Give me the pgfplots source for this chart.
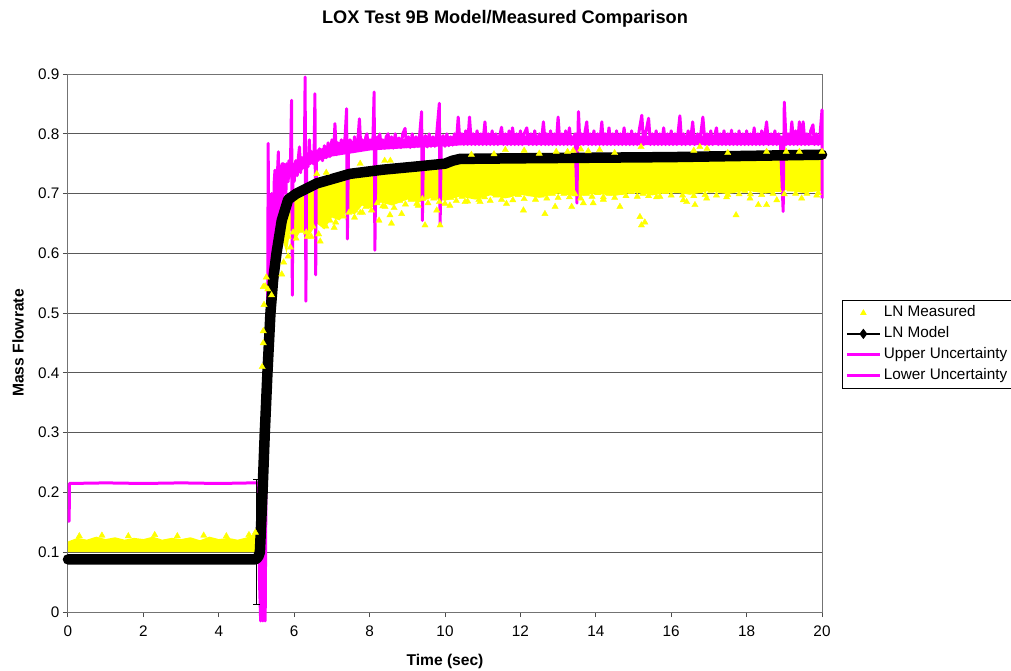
\documentclass[border=0pt]{standalone}
\usepackage{pgfplots}
\pgfplotsset{compat=1.18}
\usepackage{fontspec}
\setmainfont{Liberation Sans}
\definecolor{mag}{RGB}{255,0,255}
\definecolor{yel}{RGB}{255,255,0}
\pgfplotsset{longleg/.style={legend image code/.code={\draw[mark repeat=2,mark phase=2] plot coordinates {(0pt,0pt)(16.5pt,0pt)(33pt,0pt)};}}}
\begin{document}
\begin{tikzpicture}
\useasboundingbox (-68pt,-58pt) rectangle (943pt,612pt);
\begin{axis}[
  at={(0pt,0pt)}, anchor=south west,
  scale only axis, width=754pt, height=538pt,
  xmin=0, xmax=20, ymin=0, ymax=0.9,
  xtick={0,2,4,6,8,10,12,14,16,18,20},
  ytick={0,0.1,0.2,0.3,0.4,0.5,0.6,0.7,0.8,0.9},
  ymajorgrids, major grid style={black!65, line width=1pt},
  axis line style={black!55, line width=1pt},
  tick align=outside, major tick length=5pt, tick style={black!70, line width=1pt},
  xtick pos=bottom, ytick pos=left,
  ticklabel style={font=\fontsize{15.3}{18}\selectfont},
  x tick label style={yshift=-5pt},
  /pgf/number format/assume math mode=true,
  y tick label style={/pgf/number format/.cd, fixed, precision=1},
  xlabel={Time (sec)}, ylabel={Mass Flowrate},
  x label style={at={(axis description cs:0.5,-0.0925)}, anchor=center, font=\bfseries\fontsize{15.6}{18}\selectfont},
  y label style={at={(axis description cs:-0.0663,0.5)}, anchor=center, font=\bfseries\fontsize{15.6}{18}\selectfont},
  clip=false,
  legend style={at={(axis description cs:1.0265,0.58)}, anchor=north west, draw=black, line width=0.8pt,
    font=\fontsize{15.3}{18}\selectfont, legend cell align=left, row sep=0pt,
    nodes={inner sep=2.5pt, text height=12pt, text depth=4pt}},
]
% Lower uncertainty (mostly hidden under the measured band)
\addplot[mag, line width=3pt, forget plot] coordinates {
(0,0.11)(2.5,0.112)(5.0,0.11)(5.09,0.10)(5.16,0.2)(5.22,0.3)(5.29,0.4)(5.37,0.5)(5.44,0.555)(5.53,0.60)(5.67,0.655)(5.84,0.69)(6.06,0.69)(6.6,0.70)(7.5,0.705)(8.4,0.71)(10,0.715)(12,0.72)(14,0.72)(16,0.722)(18,0.724)(20,0.725)};
% Measured: dense band (left)
\addplot[fill=yel, draw=none, forget plot] coordinates {
(0,0.100)(0,0.118)(0.25,0.124)(0.5,0.121)(0.75,0.126)(1.0,0.122)(1.25,0.125)(1.5,0.121)(1.75,0.124)(2.0,0.122)(2.25,0.126)(2.5,0.121)(2.75,0.124)(3.0,0.122)(3.25,0.125)(3.5,0.120)(3.75,0.126)(4.0,0.122)(4.25,0.124)(4.5,0.121)(4.75,0.125)(4.95,0.131)(5.02,0.12)(5.02,0.100)} -- cycle;
% Measured: dense band (right)
\addplot[fill=yel, draw=none, forget plot] coordinates {
(5.45,0.56)(5.5,0.58)(5.6,0.60)(5.7,0.62)(5.8,0.60)(5.9,0.64)(6.0,0.62)(6.2,0.64)(6.4,0.63)(6.6,0.65)(6.8,0.64)(7.0,0.66)(7.2,0.655)(7.4,0.67)(7.6,0.665)(7.8,0.68)(8.0,0.675)(8.3,0.685)(8.6,0.68)(9.0,0.69)(9.3,0.685)(9.6,0.692)(10.0,0.688)(10.4,0.695)(10.8,0.69)(11.2,0.697)(11.6,0.692)(12.0,0.698)(12.5,0.693)(13.0,0.70)(13.5,0.695)(14.0,0.70)(14.5,0.696)(15.0,0.702)(15.5,0.697)(16.0,0.703)(16.5,0.698)(17.0,0.704)(17.5,0.699)(18.0,0.705)(18.5,0.70)(19.0,0.706)(19.5,0.701)(20.0,0.705)
(20,0.765)(18,0.763)(16,0.761)(14,0.76)(12,0.759)(10.4,0.758)(10.2,0.755)(10,0.75)(9.2,0.745)(8.36,0.74)(7.48,0.733)(6.6,0.717)(6.06,0.70)(5.84,0.69)(5.67,0.655)(5.53,0.60)} -- cycle;
% Measured: scattered triangles
\addplot[only marks, mark=triangle*, mark size=3.6pt, color=yel, forget plot] coordinates {
(0.3,0.127)(0.9,0.128)(1.6,0.127)(2.3,0.129)(2.9,0.127)(3.6,0.128)(4.2,0.127)(4.8,0.129)(4.97,0.133)
(5.15,0.41)(5.18,0.45)(5.18,0.47)(5.2,0.514)(5.18,0.544)(5.23,0.545)(5.26,0.56)(5.3,0.54)(5.4,0.53)(5.67,0.565)(5.72,0.585)(5.84,0.595)
(5.84,0.628)(5.9,0.61)(5.97,0.635)(6.1,0.648)(6.32,0.635)(6.45,0.628)(6.69,0.62)(6.84,0.645)(7.06,0.643)(7.23,0.665)(7.6,0.66)(7.81,0.668)(8.25,0.655)
(8.41,0.678)(8.54,0.664)(8.58,0.65)(8.85,0.666)(9.29,0.68)(9.47,0.647)(9.78,0.672)(9.87,0.647)(10.13,0.68)(10.53,0.686)(10.93,0.686)(11.63,0.683)(12.08,0.672)(12.65,0.666)(12.92,0.678)(13.36,0.678)
(13.67,0.684)(13.93,0.684)(14.2,0.69)(14.64,0.678)(15.17,0.661)(15.21,0.647)(15.3,0.652)(15.61,0.694)(15.97,0.705)(16.41,0.686)(16.32,0.689)(16.63,0.681)(16.94,0.692)(17.47,0.694)(17.72,0.664)(18.09,0.692)(18.31,0.681)(18.53,0.681)(18.8,0.689)(19.46,0.692)(19.86,0.697)
(6.6,0.733)(6.85,0.735)(7.75,0.75)(8.4,0.755)(8.55,0.755)(10.7,0.765)(11.3,0.766)(11.6,0.773)(12.1,0.772)(12.5,0.767)(12.95,0.77)(13.25,0.77)(13.4,0.772)(13.6,0.774)(13.8,0.771)(14.1,0.773)(14.5,0.768)(15.2,0.778)(16.6,0.772)(16.76,0.778)(16.95,0.775)(17.5,0.768)(18.53,0.77)(19.05,0.77)(19.4,0.77)(20,0.77)
(6.05,0.625)(6.2,0.638)(6.35,0.628)(6.5,0.645)(6.65,0.632)(6.8,0.648)(6.95,0.655)(7.1,0.652)(7.3,0.662)(7.45,0.668)(7.6,0.672)(7.75,0.668)(7.9,0.678)(8.05,0.672)(8.2,0.684)(8.35,0.679)(8.5,0.686)(8.65,0.676)(8.8,0.688)(8.95,0.682)(9.1,0.69)(9.25,0.683)(9.4,0.691)(9.55,0.684)(9.7,0.692)(9.85,0.686)(10.0,0.683)(10.15,0.693)(10.3,0.688)(10.45,0.695)(10.6,0.687)(10.75,0.696)(10.9,0.69)(11.05,0.694)(11.2,0.688)(11.35,0.697)(11.5,0.69)(11.65,0.697)(11.8,0.689)(11.95,0.698)(12.1,0.691)(12.25,0.699)(12.4,0.69)(12.55,0.697)(12.7,0.692)(12.85,0.70)(13.0,0.693)(13.15,0.70)(13.3,0.694)(13.45,0.699)(13.6,0.692)(13.75,0.70)(13.9,0.695)(14.05,0.701)(14.2,0.694)(14.35,0.70)(14.5,0.693)(14.65,0.701)(14.8,0.696)(14.95,0.703)(15.1,0.695)(15.25,0.70)(15.4,0.696)(15.55,0.702)(15.7,0.695)(15.85,0.703)(16.0,0.697)(16.15,0.704)(16.3,0.697)(16.45,0.703)(16.6,0.696)(16.75,0.704)(16.9,0.698)(17.05,0.705)(17.2,0.697)(17.35,0.704)(17.5,0.698)(17.65,0.706)(17.8,0.699)(17.95,0.705)(18.1,0.699)(18.25,0.706)(18.4,0.698)(18.55,0.705)(18.7,0.70)(18.85,0.706)(19.0,0.699)(19.15,0.707)(19.3,0.70)(19.45,0.706)(19.6,0.70)(19.75,0.707)(19.9,0.701)};
% Upper uncertainty: dense core band
\addplot[fill=mag, draw=none, forget plot] coordinates {
(5.9,0.725)(6.0,0.73)(6.5,0.752)(7.0,0.762)(8.0,0.772)(9.0,0.776)(10,0.779)(10.5,0.781)(20,0.781)
(20,0.797)(10.5,0.797)(10,0.795)(9,0.792)(8,0.788)(7,0.78)(6.5,0.772)(6.0,0.752)(5.9,0.745)} -- cycle;
% Upper uncertainty
\addplot[mag, line width=3pt, line join=round, forget plot] coordinates {
(0,0.152)(0.03,0.152)(0.04,0.215)(1.0,0.216)(2.0,0.215)(3.0,0.216)(4.0,0.215)(4.9,0.216)(5.05,0.216)
(5.08,0.05)(5.11,-0.015)(5.14,0.12)(5.17,-0.015)(5.20,0.20)(5.23,-0.015)(5.26,0.30)(5.29,0.36)(5.31,0.784)(5.33,0.42)(5.35,0.50)(5.37,0.66)(5.38,0.56)(5.40,0.70)(5.42,0.535)(5.44,0.68)(5.45,0.62)(5.47,0.72)(5.49,0.739)(5.51,0.60)(5.53,0.72)(5.54,0.66)(5.56,0.74)(5.58,0.77)(5.60,0.63)(5.62,0.73)(5.64,0.69)(5.66,0.745)(5.68,0.75)(5.70,0.66)(5.72,0.75)(5.74,0.72)(5.76,0.745)(5.78,0.70)(5.80,0.75)(5.82,0.74)(5.84,0.72)(5.86,0.755)(5.88,0.73)(5.90,0.745)(5.93,0.856)(5.95,0.53)(5.97,0.75)
(6.00,0.72)(6.04,0.755)(6.08,0.73)(6.11,0.76)(6.14,0.778)(6.17,0.735)(6.20,0.76)(6.24,0.745)(6.27,0.765)(6.29,0.895)(6.31,0.52)(6.33,0.76)(6.37,0.745)(6.40,0.79)(6.43,0.75)(6.46,0.77)(6.50,0.75)(6.53,0.775)(6.55,0.867)(6.57,0.564)(6.59,0.77)(6.63,0.755)(6.67,0.775)
(6.7,0.77)(6.75,0.755)(6.8,0.78)(6.85,0.76)(6.9,0.785)(6.95,0.762)(7.0,0.79)(7.05,0.765)(7.08,0.817)(7.12,0.765)(7.16,0.785)(7.2,0.768)(7.25,0.79)(7.3,0.77)(7.35,0.795)(7.39,0.842)(7.41,0.624)(7.44,0.77)(7.48,0.79)(7.52,0.784)(7.56,0.77)(7.6,0.795)(7.65,0.772)(7.69,0.79)(7.73,0.825)(7.77,0.772)(7.81,0.79)(7.86,0.775)(7.9,0.795)(7.93,0.80)(7.97,0.775)
(8.01,0.79)(8.05,0.776)(8.09,0.795)(8.12,0.870)(8.14,0.605)(8.17,0.776)(8.21,0.795)(8.25,0.775)(8.27,0.80)(8.31,0.777)(8.35,0.79)(8.39,0.776)(8.44,0.795)(8.49,0.80)(8.53,0.777)(8.58,0.795)(8.63,0.776)(8.68,0.80)(8.73,0.778)(8.78,0.793)(8.83,0.777)(8.88,0.80)(8.94,0.809)(8.98,0.778)
(9.03,0.795)(9.08,0.777)(9.13,0.80)(9.18,0.778)(9.23,0.795)(9.28,0.779)(9.33,0.80)(9.38,0.837)(9.40,0.655)(9.43,0.78)(9.48,0.797)(9.53,0.778)(9.58,0.80)(9.63,0.779)(9.68,0.795)(9.73,0.779)(9.78,0.80)(9.85,0.851)(9.87,0.647)(9.9,0.78)(9.95,0.797)
(10.0,0.779)(10.05,0.80)(10.1,0.78)(10.15,0.795)(10.2,0.781)(10.25,0.80)(10.3,0.782)(10.35,0.828)(10.4,0.783)(10.45,0.80)(10.5,0.782)(10.55,0.805)(10.6,0.782)(10.65,0.828)(10.7,0.782)(10.75,0.80)(10.8,0.782)(10.85,0.805)(10.9,0.782)(10.95,0.80)
(11.0,0.782)(11.06,0.82)(11.1,0.782)(11.15,0.80)(11.2,0.782)(11.25,0.805)(11.3,0.782)(11.35,0.80)(11.4,0.782)(11.5,0.811)(11.55,0.782)(11.6,0.80)(11.65,0.782)(11.7,0.805)(11.75,0.782)(11.79,0.81)(11.85,0.782)(11.9,0.80)(11.95,0.782)
(12.0,0.805)(12.05,0.782)(12.1,0.80)(12.17,0.81)(12.22,0.782)(12.28,0.80)(12.33,0.782)(12.38,0.805)(12.43,0.782)(12.5,0.80)(12.55,0.782)(12.61,0.82)(12.66,0.782)(12.7,0.80)(12.75,0.782)(12.8,0.805)(12.85,0.782)(12.9,0.80)(12.95,0.782)
(13.0,0.828)(13.05,0.782)(13.1,0.80)(13.15,0.782)(13.2,0.805)(13.25,0.782)(13.3,0.81)(13.35,0.782)(13.45,0.80)(13.5,0.684)(13.52,0.782)(13.54,0.837)(13.58,0.782)(13.62,0.80)(13.67,0.782)(13.72,0.805)(13.76,0.82)(13.8,0.782)(13.85,0.80)(13.9,0.782)(13.95,0.805)
(14.0,0.782)(14.05,0.80)(14.1,0.782)(14.16,0.82)(14.2,0.782)(14.25,0.80)(14.3,0.782)(14.35,0.81)(14.4,0.782)(14.45,0.80)(14.5,0.782)(14.55,0.805)(14.6,0.782)(14.65,0.80)(14.7,0.782)(14.75,0.81)(14.8,0.782)(14.85,0.80)(14.9,0.782)(14.95,0.805)
(15.0,0.782)(15.05,0.80)(15.1,0.782)(15.15,0.805)(15.22,0.831)(15.27,0.782)(15.32,0.80)(15.4,0.826)(15.45,0.782)(15.5,0.80)(15.55,0.782)(15.6,0.805)(15.65,0.782)(15.7,0.80)(15.75,0.782)(15.8,0.81)(15.85,0.782)(15.9,0.80)(15.95,0.782)
(16.0,0.805)(16.05,0.782)(16.1,0.80)(16.15,0.782)(16.23,0.83)(16.28,0.782)(16.33,0.80)(16.38,0.782)(16.45,0.805)(16.5,0.782)(16.57,0.82)(16.62,0.782)(16.7,0.80)(16.75,0.782)(16.84,0.828)(16.9,0.782)(16.95,0.80)
(17.0,0.782)(17.05,0.805)(17.1,0.782)(17.2,0.81)(17.25,0.782)(17.3,0.80)(17.35,0.782)(17.4,0.805)(17.45,0.782)(17.5,0.80)(17.55,0.782)(17.6,0.806)(17.65,0.782)(17.7,0.80)(17.75,0.782)(17.8,0.805)(17.85,0.782)(17.9,0.80)(17.95,0.782)
(18.0,0.805)(18.05,0.782)(18.1,0.80)(18.15,0.782)(18.2,0.81)(18.25,0.782)(18.3,0.80)(18.35,0.782)(18.4,0.805)(18.45,0.782)(18.53,0.82)(18.58,0.782)(18.65,0.80)(18.7,0.782)(18.75,0.805)(18.8,0.782)(18.85,0.80)(18.9,0.782)(18.97,0.67)
(19.0,0.853)(19.05,0.782)(19.1,0.80)(19.15,0.782)(19.2,0.82)(19.25,0.782)(19.3,0.805)(19.35,0.782)(19.4,0.82)(19.45,0.782)(19.5,0.82)(19.55,0.782)(19.6,0.80)(19.65,0.782)(19.7,0.805)(19.76,0.815)(19.8,0.782)(19.85,0.80)(19.9,0.782)(19.95,0.80)(20.0,0.84)(20.0,0.692)};
% Error bar at t = 5 s
\addplot[draw=none, forget plot, black, error bars/.cd, y dir=both, y explicit, error bar style={black, line width=0.8pt}, error mark options={black, line width=0.8pt, mark size=3.5pt, rotate=90}] coordinates {(5.0,0.1165) +- (0,0.1045)};
% Model
\addplot[black, line width=10.5pt, line cap=round, line join=round, forget plot] coordinates {
(0,0.088)(4.95,0.088)(5.0,0.089)(5.05,0.093)(5.09,0.10)(5.16,0.2)(5.22,0.3)(5.29,0.4)(5.37,0.5)(5.44,0.555)(5.53,0.60)(5.67,0.655)(5.84,0.69)(6.06,0.70)(6.6,0.717)(7.48,0.733)(8.36,0.74)(9.2,0.745)(10.0,0.750)(10.2,0.755)(10.4,0.758)(12,0.759)(14,0.760)(16,0.761)(18,0.763)(20,0.765)};
% Legend
\addlegendimage{longleg, only marks, mark=triangle*, mark size=3pt, color=yel}
\addlegendentry{LN Measured}
\addlegendimage{longleg, black, line width=1.5pt, mark=diamond*, mark size=4pt}
\addlegendentry{LN Model}
\addlegendimage{longleg, mag, line width=3pt}
\addlegendentry{Upper Uncertainty}
\addlegendimage{longleg, mag, line width=3pt}
\addlegendentry{Lower Uncertainty}
\end{axis}
\node[font=\bfseries\fontsize{18.2}{21}\selectfont] at (437pt,593pt) {LOX Test 9B Model/Measured Comparison};
\end{tikzpicture}
\end{document}
